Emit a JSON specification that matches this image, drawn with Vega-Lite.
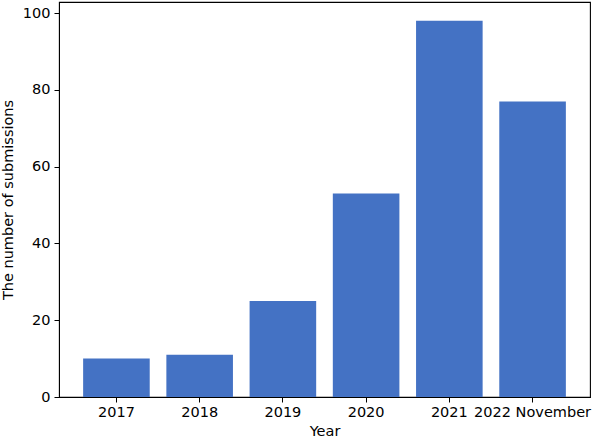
{
  "$schema": "https://vega.github.io/schema/vega-lite/v6.json",
  "width": 531,
  "height": 395,
  "autosize": {"type": "none"},
  "padding": {"left": 59, "top": 2, "right": 4, "bottom": 45},
  "background": "white",
  "config": {
    "view": {"stroke": "black", "strokeWidth": 1.1},
    "font": "DejaVu Sans",
    "axis": {
      "grid": false,
      "domainColor": "black",
      "tickColor": "black",
      "tickSize": 5,
      "labelColor": "black",
      "titleColor": "black",
      "labelFont": "DejaVu Sans",
      "titleFont": "DejaVu Sans",
      "labelFontSize": 14.5,
      "titleFontSize": 14.5,
      "titleFontWeight": "normal"
    }
  },
  "data": {
    "values": [
      {"Year": "2017", "count": 10},
      {"Year": "2018", "count": 11},
      {"Year": "2019", "count": 25},
      {"Year": "2020", "count": 53},
      {"Year": "2021", "count": 98},
      {"Year": "2022 November", "count": 77}
    ]
  },
  "mark": {"type": "bar", "color": "#4472C4"},
  "encoding": {
    "x": {
      "field": "Year",
      "type": "nominal",
      "sort": null,
      "title": "Year",
      "scale": {"paddingInner": 0.2, "paddingOuter": 0.29},
      "axis": {"labelAngle": 0, "labelPadding": 3, "titlePadding": 6}
    },
    "y": {
      "field": "count",
      "type": "quantitative",
      "title": "The number of submissions",
      "scale": {"domain": [0, 102.9], "nice": false},
      "axis": {"values": [0, 20, 40, 60, 80, 100], "labelPadding": 4, "titlePadding": 7}
    }
  }
}
